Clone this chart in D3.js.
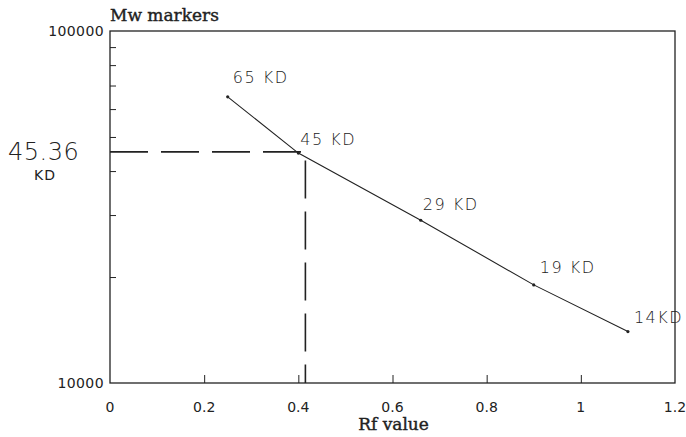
<!DOCTYPE html>
<html>
<head>
<meta charset="utf-8">
<script src="https://cdn.jsdelivr.net/npm/d3@7"></script>
<style>
  body { margin: 0; background: #fff; }
  text { fill: #222; }
</style>
</head>
<body>
<div id="chart"></div>
<script>
// marker data
const rfValues = [0.25, 0.4, 0.66, 0.9, 1.1]
const mwValues = [65000, 45000, 29000, 19000, 14000]
const markerLabels = ["65 KD", "45 KD", "29 KD", "19 KD", "14KD"]
const xTicks = [0, 0.2, 0.4, 0.6, 0.8, 1, 1.2]
const xTickLabels = ["0", "0.2", "0.4", "0.6", "0.8", "1", "1.2"]
const yTickLabels = ["10000", "100000"]
const unknownMw = 45360
const unknownRf = 0.415

const W = 686, H = 437
const m = { top: 31, right: 11, bottom: 54, left: 110 }

const svg = d3.select("#chart").append("svg")
    .attr("width", W)
    .attr("height", H)

const x = d3.scaleLinear().domain([0, 1.2]).range([m.left, W - m.right])
const y = d3.scaleLog().domain([10000, 100000]).range([H - m.bottom, m.top])

const ink = "#222"

// frame
svg.append("rect")
    .attr("x", x(0)).attr("y", y(100000))
    .attr("width", x(1.2) - x(0)).attr("height", y(10000) - y(100000))
    .attr("fill", "none").attr("stroke", ink).attr("stroke-width", 1.3)

// inward ticks on the x axis
svg.append("g")
    .attr("transform", "translate(0," + y(10000) + ")")
    .call(d3.axisTop(x).tickValues(xTicks.slice(1, -1)).tickSize(8).tickFormat(""))
    .call(g => g.select(".domain").remove())
    .call(g => g.selectAll("line").attr("stroke", ink))

// x labels
svg.append("g").selectAll("text")
    .data(xTicks)
    .join("text")
    .attr("x", d => x(d))
    .attr("y", y(10000) + 29)
    .attr("text-anchor", "middle")
    .style("font", "14px 'DejaVu Sans'")
    .text((d, i) => xTickLabels[i])

// minor log ticks on the y axis
const minor = d3.range(2, 10).map(k => k * 10000)
svg.append("g")
    .attr("transform", "translate(" + x(0) + ",0)")
    .call(d3.axisRight(y).tickValues(minor).tickSize(6).tickFormat(""))
    .call(g => g.select(".domain").remove())
    .call(g => g.selectAll("line").attr("stroke", ink))

svg.append("g").selectAll("text")
    .data([10000, 100000])
    .join("text")
    .attr("x", x(0) - 6)
    .attr("y", d => y(d) + 5)
    .attr("text-anchor", "end")
    .style("font", "14px 'DejaVu Sans'")
    .style("letter-spacing", "0.4px")
    .text((d, i) => yTickLabels[i])

// titles
svg.append("text")
    .attr("x", 110).attr("y", 21)
    .style("font", "17px 'DejaVu Serif'")
    .style("stroke", ink).style("stroke-width", 0.4)
    .text("Mw markers")

svg.append("text")
    .attr("x", (x(0) + x(1.2)) / 2 + 1).attr("y", 430)
    .attr("text-anchor", "middle")
    .style("font", "17px 'DejaVu Serif'")
    .style("stroke", ink).style("stroke-width", 0.4)
    .text("Rf value")

// dashed read-off lines
svg.append("path")
    .attr("d", d3.line()([[x(0), y(unknownMw)], [x(unknownRf), y(unknownMw)], [x(unknownRf), y(10000)]]))
    .attr("fill", "none")
    .attr("stroke", ink)
    .attr("stroke-width", 1.6)
    .attr("stroke-dasharray", "38,13")

// calibration line
const pts = rfValues.map((r, i) => [r, mwValues[i]])
svg.append("path")
    .datum(pts)
    .attr("d", d3.line().x(d => x(d[0])).y(d => y(d[1])))
    .attr("fill", "none")
    .attr("stroke", ink)
    .attr("stroke-width", 1.1)

svg.append("g").selectAll("circle")
    .data(pts)
    .join("circle")
    .attr("cx", d => x(d[0]))
    .attr("cy", d => y(d[1]))
    .attr("r", 1.6)
    .attr("fill", ink)

// handwritten labels
const offsets = [[5, -14], [2, -8], [2, -10], [6, -12], [6, -9]]
svg.append("g").selectAll("text")
    .data(pts)
    .join("text")
    .attr("x", (d, i) => x(d[0]) + offsets[i][0])
    .attr("y", (d, i) => y(d[1]) + offsets[i][1])
    .style("font", "16px 'DejaVu Sans'")
    .style("font-weight", 300)
    .style("letter-spacing", "1.5px")
    .text((d, i) => markerLabels[i])

svg.append("text")
    .attr("x", 8).attr("y", 160)
    .style("font", "24px 'DejaVu Sans'")
    .style("font-weight", 300)
    .style("letter-spacing", "0.5px")
    .text("45.36")
svg.append("text")
    .attr("x", 34).attr("y", 180)
    .style("font", "14px 'DejaVu Sans'")
    .style("letter-spacing", "1px")
    .text("KD")
</script>
</body>
</html>
